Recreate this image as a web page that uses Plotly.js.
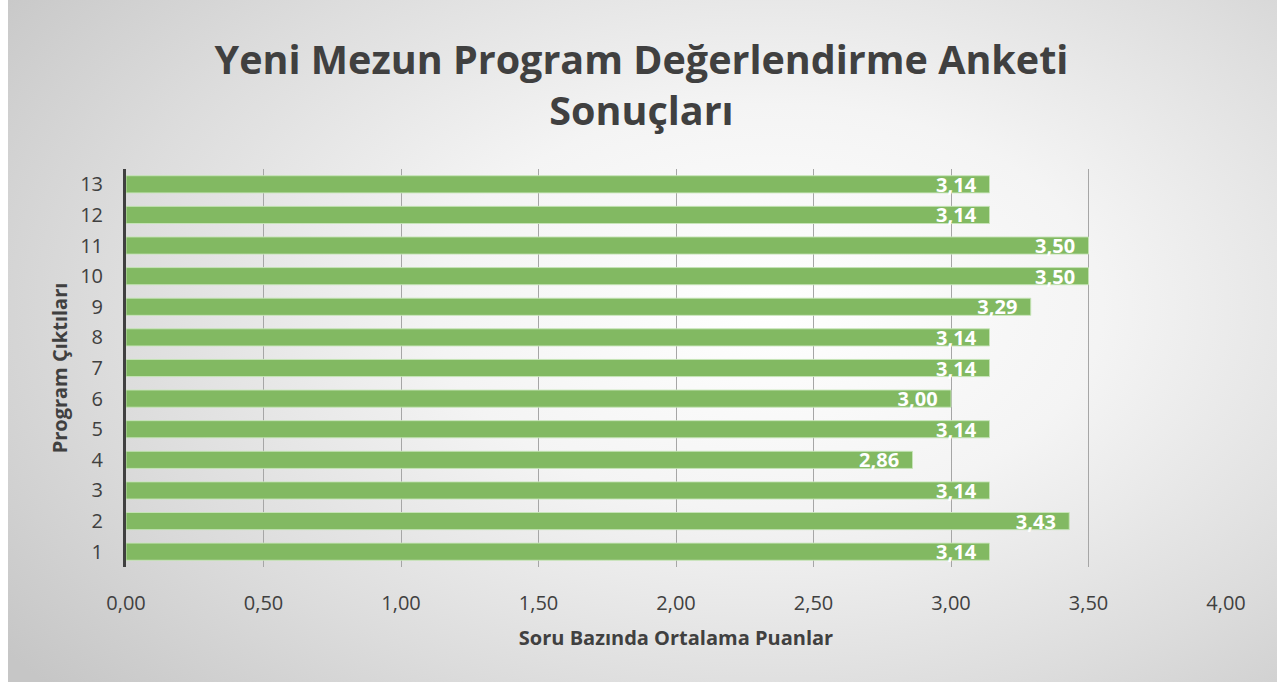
<!DOCTYPE html>
<html><head><meta charset="utf-8">
<script src="https://cdn.plot.ly/plotly-3.0.1.min.js"></script>
<style>
html,body{margin:0;padding:0;background:#fff;}
#wrap{position:relative;width:1283px;height:685px;overflow:hidden;}
#bg{position:absolute;left:8px;top:0;width:1269px;height:682px;
background:radial-gradient(ellipse 75% 85% at 60% 45%, #ffffff 0%, #f4f4f4 35%, #dcdcdc 70%, #c6c6c6 100%);}
#chart{position:absolute;left:0;top:0;width:1283px;height:685px;}
</style></head>
<body><div id="wrap"><div id="bg"></div><div id="chart"></div></div>
<script>
const categories = ["1","2","3","4","5","6","7","8","9","10","11","12","13"];
const values = [3.14,3.43,3.14,2.86,3.14,3.00,3.14,3.14,3.29,3.50,3.50,3.14,3.14];
const xTicks = [0,0.5,1,1.5,2,2.5,3,3.5,4];

const trace = {
  type:'bar', orientation:'h',
  x: values, y: categories,
  width: 0.56,
  marker:{color:'#82b962', line:{color:'rgba(200,230,185,0.9)', width:1}},
  texttemplate:'%{x:.2f}\u00a0\u00a0', textposition:'inside', insidetextanchor:'end',
  constraintext:'none', textangle:0,
  textfont:{family:'Open Sans', size:20, color:'#ffffff', weight:'bold'},
  hoverinfo:'skip', cliponaxis:false
};

const layout = {
  width:1283, height:685,
  paper_bgcolor:'rgba(0,0,0,0)', plot_bgcolor:'rgba(0,0,0,0)',
  separators:',.',
  margin:{l:126, r:57, t:169, b:118, pad:0},
  showlegend:false,
  title:{text:'Yeni Mezun Program Değerlendirme Anketi<br>Sonuçları',
    font:{family:'Open Sans', size:39.5, color:'#404040', weight:'bold'},
    x:0.5, xanchor:'center', yref:'container', y:0.892, yanchor:'middle'},
  xaxis:{range:[0,4], tickvals:xTicks, tickformat:'.2f',
    showgrid:true, gridcolor:'#a6a6a6', gridwidth:1, zeroline:false,
    showline:false, ticks:'', ticklen:0, ticklabelstandoff:22,
    tickfont:{family:'Open Sans', size:20, color:'#404040'},
    title:{text:'Soru Bazında Ortalama Puanlar', standoff:15,
      font:{family:'Open Sans', size:20, color:'#404040', weight:'bold'}},
    fixedrange:true},
  yaxis:{type:'category', categoryorder:'array', categoryarray:categories,
    range:[-0.5,12.5], showgrid:false, zeroline:false,
    showline:true, linecolor:'#404040', linewidth:3,
    ticks:'', tickfont:{family:'Open Sans', size:20, color:'#404040'},
    ticklabelstandoff:16,
    title:{text:'Program Çıktıları', standoff:8,
      font:{family:'Open Sans', size:20, color:'#404040', weight:'bold'}},
    fixedrange:true}
};
Plotly.newPlot('chart',[trace],layout,{displayModeBar:false, staticPlot:true});
</script></body></html>
